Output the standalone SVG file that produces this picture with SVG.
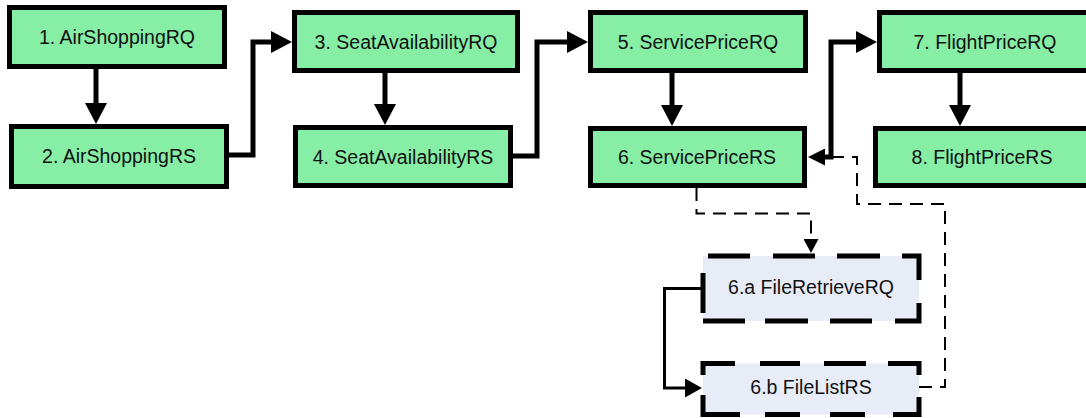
<svg xmlns="http://www.w3.org/2000/svg" width="1086" height="418" viewBox="0 0 1086 418">
  <style>
    .step { fill: #87eea6; stroke: #000; stroke-width: 5; }
    .sub { fill: #e8ecf7; stroke: none; }
    .sub-edge { fill: none; stroke: #000; stroke-width: 5; }
    .lbl { font-family: "Liberation Sans", Arial, sans-serif; font-size: 19.5px; fill: #111; text-anchor: middle; }
    .flow { fill: none; stroke: #000; stroke-width: 5; }
    .thin { fill: none; stroke: #000; stroke-width: 3; }
    .opt { fill: none; stroke: #000; stroke-width: 2; stroke-dasharray: 13 8; }
  </style>
  <defs>
    <marker id="arrow-lg" markerUnits="userSpaceOnUse" viewBox="0 0 21 22" markerWidth="21" markerHeight="22" refX="0" refY="11" orient="auto">
      <path d="M0,0 L21,11 L0,22 Z" fill="#000"/>
    </marker>
    <marker id="arrow-sm" markerUnits="userSpaceOnUse" viewBox="0 0 17 17" markerWidth="17" markerHeight="17" refX="0" refY="8.5" orient="auto-start-reverse">
      <path d="M0,0 L17,8.5 L0,17 Z" fill="#000"/>
    </marker>
    <marker id="arrow-thin" markerUnits="userSpaceOnUse" viewBox="0 0 17 19" markerWidth="17" markerHeight="19" refX="0" refY="9.5" orient="auto">
      <path d="M0,0 L17,9.5 L0,19 Z" fill="#000"/>
    </marker>
    <marker id="arrow-opt" markerUnits="userSpaceOnUse" viewBox="0 0 14 15" markerWidth="14" markerHeight="15" refX="0" refY="7.5" orient="auto">
      <path d="M0,0 L14,7.5 L0,15 Z" fill="#000"/>
    </marker>
  </defs>

  <!-- connectors -->
  <g id="connectors">
    <path class="flow" d="M96,69 V103" marker-end="url(#arrow-lg)"/>
    <path class="flow" d="M229,155 H253 V42 H271" marker-end="url(#arrow-lg)"/>
    <path class="flow" d="M385,73 V104" marker-end="url(#arrow-lg)"/>
    <path class="flow" d="M513,156 H537 V42 H567" marker-end="url(#arrow-lg)"/>
    <path class="flow" d="M672,73 V105" marker-end="url(#arrow-lg)"/>
    <path class="flow" d="M825,157 H831 V42 H856" marker-start="url(#arrow-sm)" marker-end="url(#arrow-lg)"/>
    <path class="flow" d="M960,73 V105" marker-end="url(#arrow-lg)"/>
    <path class="opt" d="M696.5,188 V213.5 H811 V239" marker-end="url(#arrow-opt)"/>
    <path class="opt" d="M919,387 H945 V204 H857 V157 H832"/>
    <path class="thin" d="M703,288.5 H664.5 V388 H685" marker-end="url(#arrow-thin)"/>
  </g>

  <!-- request / response steps -->
  <g id="n1"><rect class="step" x="9.5" y="7.5" width="215" height="59"/><text class="lbl" x="117" y="44">1. AirShoppingRQ</text></g>
  <g id="n2"><rect class="step" x="11.5" y="126.5" width="215" height="60"/><text class="lbl" x="119" y="163">2. AirShoppingRS</text></g>
  <g id="n3"><rect class="step" x="294.5" y="12.5" width="223" height="58"/><text class="lbl" x="406" y="48.5">3. SeatAvailabilityRQ</text></g>
  <g id="n4"><rect class="step" x="295.5" y="127.5" width="215" height="58"/><text class="lbl" x="403" y="163.5">4. SeatAvailabilityRS</text></g>
  <g id="n5"><rect class="step" x="590.5" y="12.5" width="215" height="58"/><text class="lbl" x="698" y="48.5">5. ServicePriceRQ</text></g>
  <g id="n6"><rect class="step" x="590.5" y="128.5" width="214" height="57"/><text class="lbl" x="697" y="163.5">6. ServicePriceRS</text></g>
  <g id="n7"><rect class="step" x="879.5" y="12.5" width="220" height="58"/><text class="lbl" x="985" y="48.5">7. FlightPriceRQ</text></g>
  <g id="n8"><rect class="step" x="875.5" y="128.5" width="220" height="57"/><text class="lbl" x="982" y="163.5">8. FlightPriceRS</text></g>

  <!-- optional file lookup: dashed borders drawn side by side, dashes closing the corners -->
  <g id="n6a">
    <rect class="sub" x="703" y="256" width="216" height="65"/>
    <path class="sub-edge" d="M708,256 H750 M773,256 H815 M837,256 H880 M902,256 H919 V280 M919,303 V321 H895 M872,321 H830 M808,321 H765 M745,321 H703 M703,313 V273"/>
    <text class="lbl" x="811" y="293.5">6.a FileRetrieveRQ</text>
  </g>
  <g id="n6b">
    <rect class="sub" x="703" y="363.5" width="216" height="51"/>
    <path class="sub-edge" d="M703,375 V363.5 H735 M760,363.5 H800 M824,363.5 H866 M888,363.5 H919 V375 M919,397 V414.5 H893 M865,414.5 H830 M800,414.5 H765 M740,414.5 H703 V395"/>
    <text class="lbl" x="811" y="393.5">6.b FileListRS</text>
  </g>
</svg>
